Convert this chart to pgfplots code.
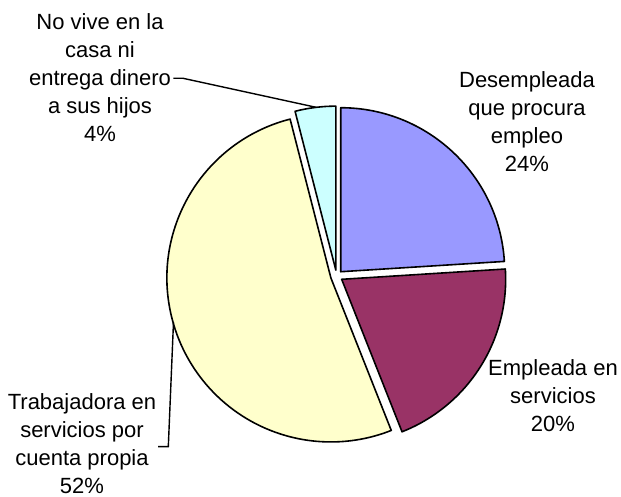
\documentclass[border=0pt]{standalone}
\usepackage{pgfplots}
\usepackage{pgfplotstable}
\pgfplotsset{compat=1.18}
\usepackage{fontspec}
\setmainfont{Liberation Sans}
\definecolor{cBlue}{HTML}{9999FF}
\definecolor{cMaroon}{HTML}{993366}
\definecolor{cYellow}{HTML}{FFFFCC}
\definecolor{cCyan}{HTML}{CCFFFF}
\pgfplotstableread{
label value
Desempleada 24
Empleada 20
Trabajadora 52
NoVive 4
}\piedata
\pgfplotstablegetelem{0}{value}\of\piedata \let\vA\pgfplotsretval
\pgfplotstablegetelem{1}{value}\of\piedata \let\vB\pgfplotsretval
\pgfplotstablegetelem{2}{value}\of\piedata \let\vC\pgfplotsretval
\pgfplotstablegetelem{3}{value}\of\piedata \let\vD\pgfplotsretval
% angles (clockwise from 90 degrees)
\pgfmathsetmacro\aA{90}
\pgfmathsetmacro\aB{\aA-3.6*\vA}
\pgfmathsetmacro\aC{\aB-3.6*\vB}
\pgfmathsetmacro\aD{\aC-3.6*\vC}
\pgfmathsetmacro\aE{\aD-3.6*\vD}
\def\cx{336.6}
\def\cy{220.9}
\def\ex{6}
\def\R{82pt}
\newcommand\slice[3]{% start end color
  \pgfmathsetmacro\mid{(#1+#2)/2}
  \pgfmathsetmacro\px{\cx+\ex*cos(\mid)}
  \pgfmathsetmacro\py{\cy+\ex*sin(\mid)}
  \pgfmathsetmacro\sa{#1}
  \pgfmathsetmacro\sb{#2}
  \edef\doslice{\noexpand\draw[fill=#3,draw=black,line width=0.8pt,line join=round]
    (axis cs:\px,\py) -- ++(\sa:\R) arc[start angle=\sa,end angle=\sb,radius=\R] -- cycle;}
  \doslice
}
\begin{document}
\begin{tikzpicture}
\begin{axis}[
  scale only axis, width=310.5pt, height=248.5pt,
  xmin=0, xmax=621, ymin=0, ymax=497,
  hide axis, clip=false,
]
\path (axis cs:0,0) rectangle (axis cs:621,497);
\slice{\aB}{\aA}{cBlue}
\slice{\aC}{\aB}{cMaroon}
\slice{\aD}{\aC}{cYellow}
\slice{\aE}{\aD}{cCyan}
\draw[line width=0.7pt] (axis cs:173.3,418.7) -- (axis cs:183,418.7) -- (axis cs:316,389.7);
\draw[line width=0.7pt] (axis cs:158,50.3) -- (axis cs:168.3,50.3) -- (axis cs:173.5,175);
\begin{scope}[every node/.style={align=center,font=\fontsize{11}{14}\selectfont,inner sep=0pt}]
\node at (axis cs:100,419) {No vive en la\\casa ni\\entrega dinero\\a sus hijos\\\vD\%};
\node at (axis cs:527,375.5) {Desempleada\\que procura\\empleo\\\vA\%};
\node at (axis cs:553,101) {Empleada en\\servicios\\\vB\%};
\node at (axis cs:82,53) {Trabajadora en\\servicios por\\cuenta propia\\\vC\%};
\end{scope}
\end{axis}
\end{tikzpicture}
\end{document}
